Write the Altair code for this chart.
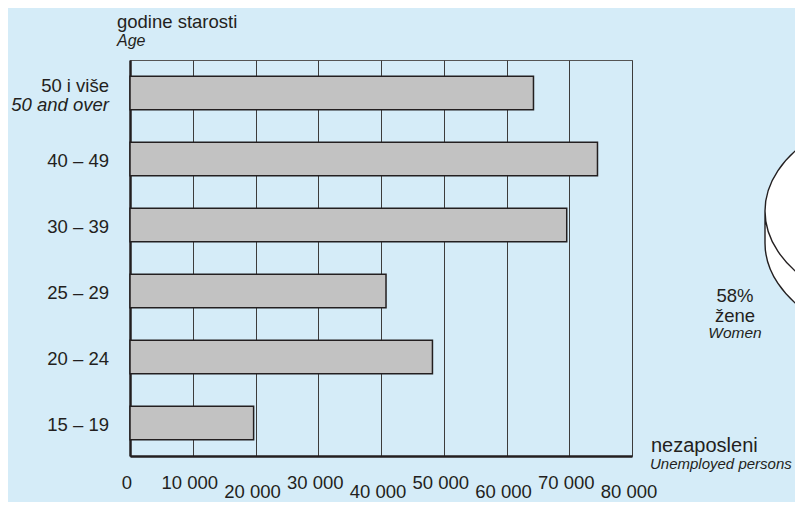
import altair as alt
import pandas as pd

# ---- data ----
categories = ["50 i više", "40 – 49", "30 – 39", "25 – 29", "20 – 24", "15 – 19"]
categories_en = ["50 and over", "", "", "", "", ""]
unemployed = [64300, 74500, 69600, 40800, 48200, 19700]

x_ticks = [0, 10000, 20000, 30000, 40000, 50000, 60000, 70000, 80000]
x_tick_labels = ["0", "10 000", "20 000", "30 000", "40 000", "50 000", "60 000", "70 000", "80 000"]

women_share = "58%"

# ---- styles ----
BG = "#d5ecf8"
INK = "#231f20"
FONT = "Liberation Sans"

df = pd.DataFrame({"cat": categories, "en": categories_en, "value": unemployed})
df_ticks = pd.DataFrame({"v": x_ticks, "lab": x_tick_labels})

x_scale = alt.Scale(domain=[0, 80000], nice=False, zero=True)
x_axis = alt.Axis(title=None, values=x_ticks, labels=False, ticks=False, grid=True,
                  gridColor="#3c3c3c", gridWidth=1, domain=True,
                  domainColor=INK, domainWidth=2.5)
y_scale = alt.Scale(paddingInner=0.49, paddingOuter=0.245)
y_axis = alt.Axis(title=None, labels=False, ticks=False, grid=False, domain=True,
                  domainColor=INK, domainWidth=2.5)


def y_enc():
    return alt.Y("cat:N", sort=categories, scale=y_scale, axis=y_axis)


bars = alt.Chart(df).mark_bar(fill="#c2c2c2", stroke=INK, strokeWidth=1.5).encode(
    x=alt.X("value:Q", scale=x_scale, axis=x_axis),
    y=y_enc(),
)

# category labels (main line)
cat_main = alt.Chart(df).transform_filter("datum.en == ''").mark_text(
    align="right", baseline="alphabetic", dy=7.5, font=FONT, fontSize=18.5, color=INK
).encode(x=alt.value(-21), y=y_enc(), text="cat:N")

cat_first = alt.Chart(df).transform_filter("datum.en != ''").mark_text(
    align="right", baseline="alphabetic", dy=-1.5, font=FONT, fontSize=18.5, color=INK
).encode(x=alt.value(-21), y=y_enc(), text="cat:N")

cat_first_en = alt.Chart(df).transform_filter("datum.en != ''").mark_text(
    align="right", baseline="alphabetic", dy=18, font=FONT, fontSize=18.5,
    fontStyle="italic", color=INK
).encode(x=alt.value(-21), y=y_enc(), text="en:N")

# staggered x tick labels
upper_filter = "datum.v == 0 || (datum.v / 10000) % 2 == 1"
lower_filter = "datum.v != 0 && (datum.v / 10000) % 2 == 0"

xlab_upper = alt.Chart(df_ticks).transform_filter(upper_filter).mark_text(
    align="center", baseline="alphabetic", dx=-3, font=FONT, fontSize=18.5, color=INK
).encode(x=alt.X("v:Q", scale=x_scale, axis=x_axis), y=alt.value(429), text="lab:N")

xlab_lower = alt.Chart(df_ticks).transform_filter(lower_filter).mark_text(
    align="center", baseline="alphabetic", dx=-3, font=FONT, fontSize=18.5, color=INK
).encode(x=alt.X("v:Q", scale=x_scale, axis=x_axis), y=alt.value(438), text="lab:N")


def note(text, x, y, size=18.5, italic=False, align="left"):
    kw = dict(align=align, baseline="alphabetic", font=FONT, fontSize=size, color=INK)
    if italic:
        kw["fontStyle"] = "italic"
    return alt.Chart(pd.DataFrame({"t": [text]})).mark_text(**kw).encode(
        x=alt.value(x), y=alt.value(y), text="t:N")


title1 = note("godine starosti", -13, -31.7, 18.5)
title2 = note("Age", -13, -14, 16, italic=True)
unit1 = note("nezaposleni", 521, 391.7, 20)
unit2 = note("Unemployed persons", 520, 409, 15, italic=True)
pie1 = note(women_share, 605, 241.5, 18.5, align="center")
pie2 = note("žene", 605, 261.7, 18.5, align="center")
pie3 = note("Women", 605, 278.3, 15.5, italic=True, align="center")

# 3D pie outline (mostly outside the picture on the right)
pie_path = ("M 165 0 L 165 32 A 165 104 0 0 1 -165 32 L -165 0 "
            "M -165 0 A 165 104 0 1 1 165 0 A 165 104 0 1 1 -165 0 Z")
pie = alt.Chart(pd.DataFrame({"p": [0]})).mark_point(
    shape=pie_path, size=4, filled=True, fill="white", stroke=INK,
    strokeWidth=1.4, opacity=1, fillOpacity=1, strokeOpacity=1
).encode(x=alt.value(800), y=alt.value(151))

chart = alt.layer(
    bars, cat_main, cat_first, cat_first_en, xlab_upper, xlab_lower,
    title1, title2, unit1, unit2, pie1, pie2, pie3, pie
).properties(
    width=502, height=396,
    autosize=alt.AutoSizeParams(type="none"),
    padding={"left": 122, "top": 52, "right": 163, "bottom": 46},
    background=BG,
).configure_view(stroke="#555555", strokeWidth=1)

chart.save("out.html", embed_options={"renderer": "svg", "actions": False})
